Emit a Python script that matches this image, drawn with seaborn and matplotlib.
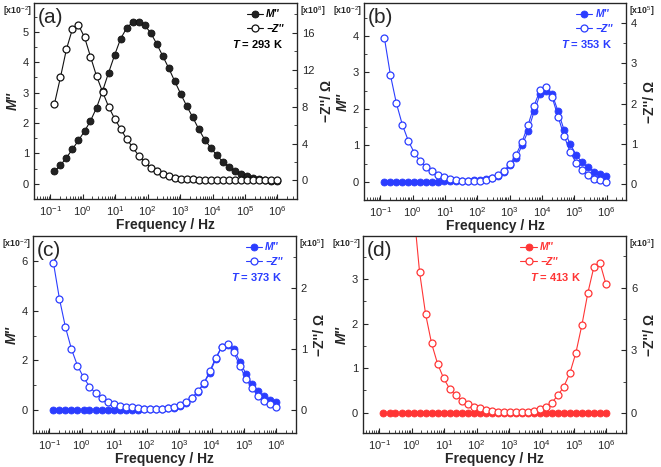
import numpy as np
import pandas as pd
import seaborn as sns
import matplotlib.pyplot as plt
from matplotlib.ticker import LogLocator, MultipleLocator, NullFormatter

## frequencies (Hz), same sweep for all four temperatures
freq = [0.135, 0.207, 0.316, 0.485, 0.743, 1.14, 1.74, 2.67, 4.09, 6.26,
        9.60, 14.7, 22.5, 34.5, 52.8, 80.9, 124, 190, 291, 446,
        682, 1045, 1600, 2455, 3758, 5754, 8810, 13490, 20700, 31700,
        48530, 74300, 113800, 174600, 267300, 409300, 626800, 959500]

## (a) 293 K : M'' in 1e-2, -Z'' in 1e8 ohm
m_a = [0.41, 0.61, 0.86, 1.14, 1.43, 1.73, 2.07, 2.50, 3.05, 3.65,
       4.23, 4.77, 5.12, 5.32, 5.34, 5.22, 4.97, 4.61, 4.21, 3.81,
       3.38, 2.96, 2.56, 2.19, 1.80, 1.45, 1.19, 0.94, 0.73, 0.56,
       0.43, 0.33, 0.25, 0.20, 0.15, 0.12, 0.10, 0.08]
z_a = [8.29, 11.17, 14.2, 16.4, 16.8, 15.5, 13.4, 11.3, 9.6, 8.0,
       6.7, 5.6, 4.5, 3.6, 2.7, 2.0, 1.4, 1.0, 0.68, 0.47,
       0.29, 0.20, 0.15, 0.12, 0.10, 0.08, 0.07, 0.06, 0.05, 0.05,
       0.04, 0.04, 0.03, 0.03, 0.03, 0.03, 0.02, 0.02]

## (b) 353 K : -Z'' in 1e5 ohm
m_b = [0.0, 0.0, 0.0, 0.0, 0.0, 0.0, 0.0, 0.0, 0.0, 0.0,
       0.01, 0.01, 0.02, 0.02, 0.03, 0.04, 0.05, 0.07, 0.10, 0.15,
       0.27, 0.45, 0.65, 1.00, 1.40, 1.93, 2.40, 2.50, 2.40, 1.93,
       1.42, 1.04, 0.74, 0.53, 0.40, 0.28, 0.22, 0.16]
z_b = [3.63, 2.71, 2.01, 1.47, 1.07, 0.77, 0.56, 0.43, 0.31, 0.23,
       0.18, 0.13, 0.10, 0.08, 0.075, 0.075, 0.08, 0.10, 0.14, 0.21,
       0.33, 0.50, 0.73, 1.05, 1.47, 1.95, 2.33, 2.42, 2.16, 1.67,
       1.20, 0.80, 0.53, 0.34, 0.23, 0.13, 0.09, 0.05]

## (c) 373 K : -Z'' in 1e5 ohm
m_c = [0.0, 0.0, 0.0, 0.0, 0.0, 0.0, 0.0, 0.0, 0.0, 0.0,
       0.01, 0.01, 0.01, 0.02, 0.02, 0.03, 0.03, 0.04, 0.05, 0.07,
       0.10, 0.18, 0.30, 0.47, 0.72, 1.07, 1.50, 2.05, 2.55, 2.62,
       2.45, 1.95, 1.47, 1.05, 0.76, 0.55, 0.42, 0.31]
z_c = [2.41, 1.82, 1.36, 1.00, 0.73, 0.54, 0.39, 0.28, 0.20, 0.13,
       0.10, 0.07, 0.06, 0.05, 0.04, 0.03, 0.03, 0.02, 0.03, 0.04,
       0.06, 0.09, 0.13, 0.20, 0.31, 0.44, 0.64, 0.86, 1.04, 1.09,
       0.95, 0.73, 0.52, 0.37, 0.24, 0.15, 0.10, 0.06]

## (d) 413 K : -Z'' in 1e3 ohm
m_d = [0.0, 0.0, 0.0, 0.0, 0.0, 0.0, 0.0, 0.0, 0.0, 0.0,
       0.0, 0.0, 0.0, 0.0, 0.0, 0.0, 0.0, 0.0, 0.0, 0.0,
       0.0, 0.0, 0.0, 0.0, 0.0, 0.0, 0.0, 0.0, 0.0, 0.0,
       0.0, 0.0, 0.0, 0.0, 0.0, 0.0, 0.0, 0.0]
z_d = [50.0, 38.0, 28.0, 20.0, 14.0, 9.8, 6.77, 4.74, 3.33, 2.35,
       1.66, 1.15, 0.83, 0.57, 0.43, 0.30, 0.21, 0.15, 0.10, 0.06,
       0.05, 0.05, 0.04, 0.05, 0.06, 0.09, 0.17, 0.30, 0.49, 0.83,
       1.26, 1.90, 2.87, 4.21, 5.76, 7.00, 7.20, 6.18]

panel_tags = ['(a)', '(b)', '(c)', '(d)']
temps = ['293', '353', '373', '413']
z_exp = ['8', '5', '5', '3']

sns.set_style('ticks')
plt.rcParams['font.family'] = ['Liberation Sans', 'DejaVu Sans']
plt.rcParams['mathtext.fontset'] = 'custom'
plt.rcParams['mathtext.rm'] = 'Liberation Sans'
plt.rcParams['mathtext.it'] = 'Liberation Sans:italic:bold'
plt.rcParams['mathtext.bf'] = 'Liberation Sans:bold'


def draw_panel(fig, rect, tag, temp, zexp, m, z, color, fill, text_color,
               ylim_m, ylim_z, mstep, zstep, leg_x=0.985, t_x=0.947):
  df = pd.DataFrame({'f': freq, 'm': m, 'z': z})

  ax = fig.add_axes(rect)
  ax2 = ax.twinx()

  sns.lineplot(data=df, x='f', y='m', ax=ax, color=color, lw=0.8,
               marker='o', markersize=5, markerfacecolor=fill,
               markeredgecolor=color, markeredgewidth=0.6,
               errorbar=None, legend=False)
  sns.lineplot(data=df, x='f', y='z', ax=ax2, color=color, lw=0.8,
               marker='o', markersize=5, markerfacecolor='white',
               markeredgecolor=color, markeredgewidth=0.9,
               errorbar=None, legend=False)

  ax.set_xscale('log')
  ax.set_xlim(0.0316, 4.0e6)
  ax.set_ylim(*ylim_m)
  ax2.set_ylim(*ylim_z)

  ax.xaxis.set_minor_locator(LogLocator(base=10, subs=np.arange(2, 10), numticks=12))
  ax.xaxis.set_minor_formatter(NullFormatter())
  ax.set_xticks([10.0**e for e in range(-1, 7)])
  ax.yaxis.set_major_locator(MultipleLocator(mstep))
  ax.yaxis.set_minor_locator(MultipleLocator(mstep / 2))
  ax2.yaxis.set_major_locator(MultipleLocator(zstep))
  ax2.yaxis.set_minor_locator(MultipleLocator(zstep / 2))

  ax.tick_params(which='both', direction='in', top=False, right=False, labelsize=8)
  ax.tick_params(which='major', length=3.5)
  ax.tick_params(which='minor', length=2)
  ax2.tick_params(which='both', direction='in', labelsize=8)
  ax2.tick_params(which='major', length=3.5)
  ax2.tick_params(which='minor', length=2)
  for sp in ax.spines.values():
    sp.set_linewidth(0.9)
    sp.set_color('#222222')

  ax.set_xlabel('Frequency / Hz', fontsize=10, fontweight='bold', labelpad=0)
  ax.set_ylabel("M''", fontsize=10, fontweight='bold', style='italic', labelpad=2)
  ax2.set_ylabel("\u2212Z''/ \u03a9", fontsize=10, fontweight='bold',
                 rotation=90, labelpad=4)

  ax.text(-0.006, 0.958, r'[x10$^{-2}$]', transform=ax.transAxes,
          ha='right', va='center', fontsize=6.3, fontweight='bold')
  ax.text(1.01, 0.958, r'[x10$^{%s}$]' % zexp, transform=ax.transAxes,
          ha='left', va='center', fontsize=6.3, fontweight='bold')
  ax.text(0.015, 0.925, tag, transform=ax.transAxes, ha='left', va='center',
          fontsize=15)

  h1 = ax.lines[0]
  h2 = ax2.lines[0]
  ax2.legend([h1, h2], ["M''", "\u2212Z''"], loc='upper right',
             bbox_to_anchor=(leg_x, 1.015), frameon=False, handlelength=1.6,
             handletextpad=0.3, labelspacing=0.4, labelcolor=text_color,
             prop={'style': 'italic', 'weight': 'bold', 'size': 7.5})
  ax2.text(t_x, 0.79, r'$T$ = %s K' % temp, transform=ax.transAxes,
           ha='right', va='center', fontsize=8, fontweight='bold',
           color=text_color)


fig = plt.figure(figsize=(6.61, 4.67), dpi=100)

black = '#111111'
blue = '#2b3dff'
red = '#ff3535'

draw_panel(fig, [0.0514, 0.5739, 0.3979, 0.4197], panel_tags[0], temps[0], z_exp[0],
           m_a, z_a, black, '#222222', 'black', (-0.5, 5.95), (-2.0, 19.2), 1, 4)
draw_panel(fig, [0.5507, 0.5717, 0.3964, 0.4218], panel_tags[1], temps[1], z_exp[1],
           m_b, z_b, blue, blue, blue, (-0.5, 4.9), (-0.4, 4.5), 1, 1)
draw_panel(fig, [0.0499, 0.0728, 0.3979, 0.4218], panel_tags[2], temps[2], z_exp[2],
           m_c, z_c, blue, blue, blue, (-0.92, 7.0), (-0.37, 2.85), 2, 1)
draw_panel(fig, [0.5492, 0.0728, 0.3979, 0.4218], panel_tags[3], temps[3], z_exp[3],
           m_d, z_d, red, red, red, (-0.46, 3.97), (-0.97, 8.48), 1, 3,
           leg_x=0.775, t_x=0.83)

fig.savefig('out.png', dpi=100)
